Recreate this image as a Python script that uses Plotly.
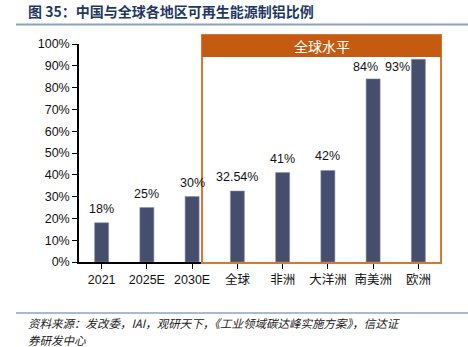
import plotly.graph_objects as go

categories = ["2021", "2025E", "2030E", "全球", "非洲", "大洋洲", "南美洲", "欧洲"]
values = [18, 25, 30, 32.54, 41, 42, 84, 93]
labels = ["18%", "25%", "30%", "32.54%", "41%", "42%", "84%", "93%"]
ytick_vals = [0, 10, 20, 30, 40, 50, 60, 70, 80, 90, 100]
ytick_text = [f"{v}%" for v in ytick_vals]

title_text = "图 35：中国与全球各地区可再生能源制铝比例"
box_title = "全球水平"
source1 = "资料来源：发改委，IAI，观研天下，《工业领域碳达峰实施方案》，信达证"
source2 = "券研发中心"

FONT = "Liberation Sans, Noto Sans CJK SC, sans-serif"
CJK = "Noto Sans CJK SC, sans-serif"

W, H = 468, 347
l, r, t, b = 79, 27, 44, 85
pw, ph = W - l - r, H - t - b
def px(x): return (x - l) / pw
def py(y): return (H - b - y) / ph

fig = go.Figure()
fig.add_trace(go.Bar(
    x=list(range(len(categories))), y=values, width=0.31,
    marker=dict(color="#464E6E", line=dict(color="#8A90A8", width=0.6)),
    hoverinfo="skip",
))

xshifts = [0, 0, 0, 0, 0, 0, -8, -21]
yshifts = [14, 14, 14, 14, 14, 14, 12, -8]
for i, (v, tx) in enumerate(zip(values, labels)):
    fig.add_annotation(x=i, y=v, text=tx, showarrow=False, xref="x", yref="y",
                       yanchor="middle", xanchor="center",
                       xshift=xshifts[i], yshift=yshifts[i],
                       font=dict(family=FONT, size=12.5, color="#111111"))

# orange box (paper coords so header is not clipped)
fig.add_shape(type="rect", xref="paper", yref="paper", x0=px(202), x1=px(441), y0=py(263), y1=py(35),
              line=dict(color="#D9782D", width=2), fillcolor="rgba(0,0,0,0)", layer="above")
fig.add_shape(type="rect", xref="paper", yref="paper", x0=px(202), x1=px(441), y0=py(57), y1=py(35),
              line=dict(width=0), fillcolor="#C55A11", layer="above")
fig.add_annotation(x=px(321.5), y=py(46), xref="paper", yref="paper", text=box_title,
                   showarrow=False, xanchor="center", yanchor="middle",
                   font=dict(family=CJK, size=14, color="white"))

fig.add_annotation(x=px(26), y=py(11), xref="paper", yref="paper", text="<b>" + title_text + "</b>",
                   showarrow=False, xanchor="left", yanchor="middle",
                   font=dict(family=CJK, size=14, color="#1F3864"))

fig.add_shape(type="line", xref="paper", yref="paper", x0=px(16), x1=px(468), y0=py(24.5), y1=py(24.5),
              line=dict(color="#8EA3C0", width=2))
fig.add_shape(type="line", xref="paper", yref="paper", x0=px(16), x1=px(468), y0=py(313), y1=py(313),
              line=dict(color="#8EA3C0", width=1.5))
fig.add_annotation(x=px(26), y=py(323), xref="paper", yref="paper", text=source1,
                   showarrow=False, xanchor="left", yanchor="middle",
                   font=dict(family=CJK, size=11.5, color="#222222", style="italic"))
fig.add_annotation(x=px(26), y=py(340), xref="paper", yref="paper", text=source2,
                   showarrow=False, xanchor="left", yanchor="middle",
                   font=dict(family=CJK, size=11.5, color="#222222", style="italic"))

fig.update_layout(
    width=W, height=H,
    margin=dict(l=l, r=r, t=t, b=b),
    paper_bgcolor="white", plot_bgcolor="white",
    showlegend=False,
    font=dict(family=FONT, size=12, color="#111111"),
    xaxis=dict(
        tickmode="array", tickvals=list(range(len(categories))), ticktext=categories,
        range=[-0.5, 7.5], showline=True, linecolor="black", linewidth=1.5,
        ticks="outside", ticklen=5, tickcolor="black", tickson="boundaries",
        showgrid=False, zeroline=False,
        tickfont=dict(family=FONT, size=12.5, color="#111111"),
    ),
    yaxis=dict(
        tickmode="array", tickvals=ytick_vals, ticktext=ytick_text, range=[0, 100],
        showline=True, linecolor="black", linewidth=1.5,
        ticks="outside", ticklen=5, tickcolor="black",
        showgrid=False, zeroline=False,
        tickfont=dict(family=FONT, size=12.5, color="#111111"),
    ),
)

fig.write_html("out.html")
